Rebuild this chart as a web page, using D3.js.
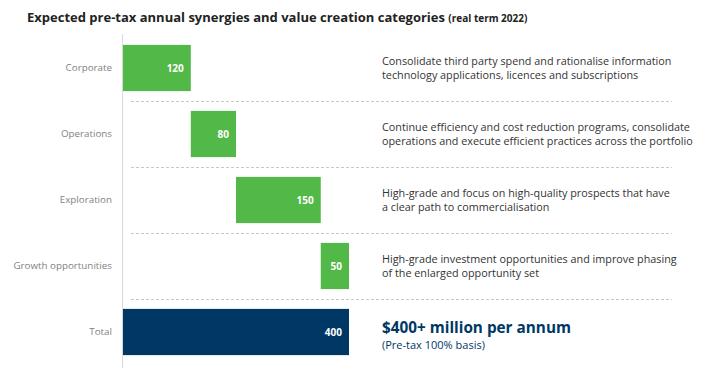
<!DOCTYPE html>
<html>
<head>
<meta charset="utf-8">
<script src="https://cdn.jsdelivr.net/npm/d3@7"></script>
<style>
  body { margin: 0; background: #fff; }
  text { font-family: "Open Sans", "Noto Sans", sans-serif; }
</style>
</head>
<body>
<div id="chart"></div>
<script>
const categories = ['Corporate', 'Operations', 'Exploration', 'Growth opportunities', 'Total'];
const values = [120, 80, 150, 50, 400];
const descriptions = [
  ['Consolidate third party spend and rationalise information', 'technology applications, licences and subscriptions'],
  ['Continue efficiency and cost reduction programs, consolidate', 'operations and execute efficient practices across the portfolio'],
  ['High-grade and focus on high-quality prospects that have', 'a clear path to commercialisation'],
  ['High-grade investment opportunities and improve phasing', 'of the enlarged opportunity set']
];
const totalHeadline = '$400+ million per annum';
const totalNote = '(Pre-tax 100% basis)';

const WIDTH = 710;
const HEIGHT = 375;
const GREEN = '#52b848';
const NAVY = '#003865';

const svg = d3.select('#chart')
  .append('svg')
  .attr('width', WIDTH)
  .attr('height', HEIGHT);

// title
const title = svg.append('text')
  .attr('x', 27)
  .attr('y', 22)
  .attr('fill', '#222')
  .attr('font-weight', 'bold')
  .attr('font-size', 13);
title.append('tspan').text('Expected pre-tax annual synergies and value creation categories ');
title.append('tspan').attr('font-size', 10).text('(real term 2022)');

// waterfall starts
let running = 0;
const rows = categories.map((c, i) => {
  const isTotal = i === categories.length - 1;
  const start = isTotal ? 0 : running;
  if (!isTotal) running += values[i];
  return { name: c, value: values[i], start, end: start + values[i], total: isTotal };
});

const x = d3.scaleLinear()
  .domain([0, 400])
  .range([123, 349]);

const y = d3.scaleBand()
  .domain(categories)
  .range([35, 365])
  .paddingInner(0.3)
  .paddingOuter(0.15);

// separators
svg.selectAll('.sep')
  .data(categories.slice(0, -1))
  .enter()
  .append('line')
  .attr('x1', 131)
  .attr('x2', 672)
  .attr('y1', d => Math.round(y(d) + y.bandwidth() + y.step() * 0.15) + 0.5)
  .attr('y2', d => Math.round(y(d) + y.bandwidth() + y.step() * 0.15) + 0.5)
  .attr('stroke', '#c8c8c8')
  .attr('stroke-width', 1)
  .attr('stroke-dasharray', '3,2');

// axis line
svg.append('line')
  .attr('x1', x(0) - 0.5)
  .attr('x2', x(0) - 0.5)
  .attr('y1', 34)
  .attr('y2', 368)
  .attr('stroke', '#d9d9d9')
  .attr('stroke-width', 1);

// category labels
const yAxis = svg.append('g')
  .attr('transform', 'translate(112,0)')
  .call(d3.axisLeft(y).tickSize(0).tickPadding(0));
yAxis.select('.domain').remove();
yAxis.selectAll('text')
  .attr('fill', '#7f7f7f')
  .attr('font-size', 9.8)
  .attr('font-family', '"Open Sans", "Noto Sans", sans-serif');

// bars
svg.selectAll('.bar')
  .data(rows)
  .enter()
  .append('rect')
  .attr('x', d => x(d.start))
  .attr('y', d => y(d.name))
  .attr('width', d => x(d.end) - x(d.start))
  .attr('height', y.bandwidth())
  .attr('fill', d => d.total ? NAVY : GREEN);

// value labels
svg.selectAll('.val')
  .data(rows)
  .enter()
  .append('text')
  .attr('x', d => x(d.end) - 7)
  .attr('y', d => y(d.name) + y.bandwidth() / 2 + 3.5)
  .attr('text-anchor', 'end')
  .attr('fill', '#fff')
  .attr('font-weight', 'bold')
  .attr('font-size', 10)
  .text(d => d.value);

// descriptions
descriptions.forEach((lines, i) => {
  const cy = y(categories[i]) + y.bandwidth() / 2;
  svg.append('text')
    .attr('x', 382)
    .attr('y', cy - 3)
    .attr('fill', '#333')
    .attr('font-size', 10.8)
    .selectAll('tspan')
    .data(lines)
    .enter()
    .append('tspan')
    .attr('x', 382)
    .attr('dy', (d, j) => j === 0 ? 0 : 13.5)
    .text(d => d);
});

const ty = y('Total') + y.bandwidth() / 2;
svg.append('text')
  .attr('x', 382)
  .attr('y', ty + 1)
  .attr('fill', NAVY)
  .attr('font-weight', 'bold')
  .attr('font-size', 15.3)
  .text(totalHeadline);
svg.append('text')
  .attr('x', 382)
  .attr('y', ty + 17)
  .attr('fill', NAVY)
  .attr('font-size', 11)
  .text(totalNote);
</script>
</body>
</html>
